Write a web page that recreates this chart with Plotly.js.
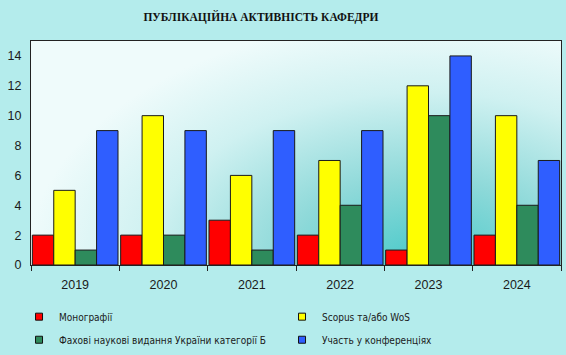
<!DOCTYPE html>
<html>
<head>
<meta charset="utf-8">
<script src="https://cdn.plot.ly/plotly-3.0.1.min.js"></script>
<style>
html,body{margin:0;padding:0;background:#B4ECEC;}
#wrap{position:relative;width:566px;height:355px;}
#bg{position:absolute;left:31px;top:41px;width:530px;height:224px;
background:radial-gradient(ellipse 75% 110% at 74% 100%, #47C9C9 0%, #8ED9D9 35%, #CFF1F1 70%, #EFFBFB 100%);}
#chart{position:absolute;left:0;top:0;width:566px;height:355px;}
</style>
</head>
<body>
<div id="wrap"><div id="bg"></div><div id="chart"></div></div>
<script>
const years = ['2019','2020','2021','2022','2023','2024'];
const monographs = [2, 2, 3, 2, 1, 2];
const scopusWos = [5, 10, 6, 7, 12, 10];
const fakhovi = [1, 2, 1, 4, 10, 4];
const conferences = [9, 9, 9, 9, 14, 7];
const seriesNames = ['Монографії', 'Scopus та/або WoS', 'Фахові наукові видання України категорії Б', 'Участь у конференціях'];
const seriesColors = ['#FF0000', '#FFFF00', '#2E8B5C', '#2F5EFF'];
const seriesData = [monographs, scopusWos, fakhovi, conferences];
const yTicks = [0, 2, 4, 6, 8, 10, 12, 14];

const traces = [];
seriesData.forEach((vals, i) => {
  traces.push({
    type: 'bar', x: years, y: vals, name: seriesNames[i], showlegend: false,
    marker: {color: seriesColors[i], line: {color: '#1a1a1a', width: 1}},
    hoverinfo: 'none'
  });
});
seriesData.forEach((vals, i) => {
  traces.push({
    type: 'scatter', mode: 'markers', x: [null], y: [null], name: seriesNames[i],
    legend: i < 2 ? 'legend' : 'legend2',
    marker: {symbol: 'square', size: 7, color: seriesColors[i], line: {color: '#111', width: 1}},
    showlegend: true, hoverinfo: 'none'
  });
});

const legendFont = {family: 'DejaVu Sans Condensed, Arial Narrow, sans-serif', size: 10, color: '#1a1a1a'};
const legendBase = {orientation: 'h', xref: 'container', yref: 'container', xanchor: 'left', yanchor: 'middle',
  entrywidth: 218, entrywidthmode: 'pixels', itemwidth: 30, font: legendFont, bgcolor: 'rgba(0,0,0,0)'};

const layout = {
  width: 566, height: 355,
  margin: {l: 31, r: 5, t: 41, b: 90},
  paper_bgcolor: 'rgba(0,0,0,0)',
  plot_bgcolor: 'rgba(0,0,0,0)',
  font: {family: 'Liberation Sans, Arial, sans-serif', size: 12, color: '#1a1a1a'},
  title: {text: '<b>ПУБЛІКАЦІЙНА АКТИВНІСТЬ КАФЕДРИ</b>', font: {family: 'Liberation Serif, Times New Roman, serif', size: 11.5, color: '#111'}, x: 0.461, xanchor: 'center', y: 0.952, yanchor: 'middle'},
  barmode: 'group', bargap: 0.03, bargroupgap: 0,
  showlegend: true,
  legend: Object.assign({}, legendBase, {x: 0.0336, y: 0.108}),
  legend2: Object.assign({}, legendBase, {x: 0.0336, y: 0.043}),
  xaxis: {type: 'category', showgrid: false, showline: true, linecolor: '#222', linewidth: 1, mirror: true,
    ticks: 'outside', tickson: 'boundaries', ticklen: 5, tickcolor: '#222', ticklabelstandoff: 8,
    tickfont: {size: 12.5}, zeroline: false, fixedrange: true},
  yaxis: {range: [0, 15], tickvals: yTicks, showgrid: false, showline: true, linecolor: '#222', linewidth: 1, mirror: true,
    ticks: '', ticklabelstandoff: 6, tickfont: {size: 12.5}, zeroline: false, fixedrange: true}
};
Plotly.newPlot('chart', traces, layout, {displayModeBar: false, staticPlot: true});
</script>
</body>
</html>
